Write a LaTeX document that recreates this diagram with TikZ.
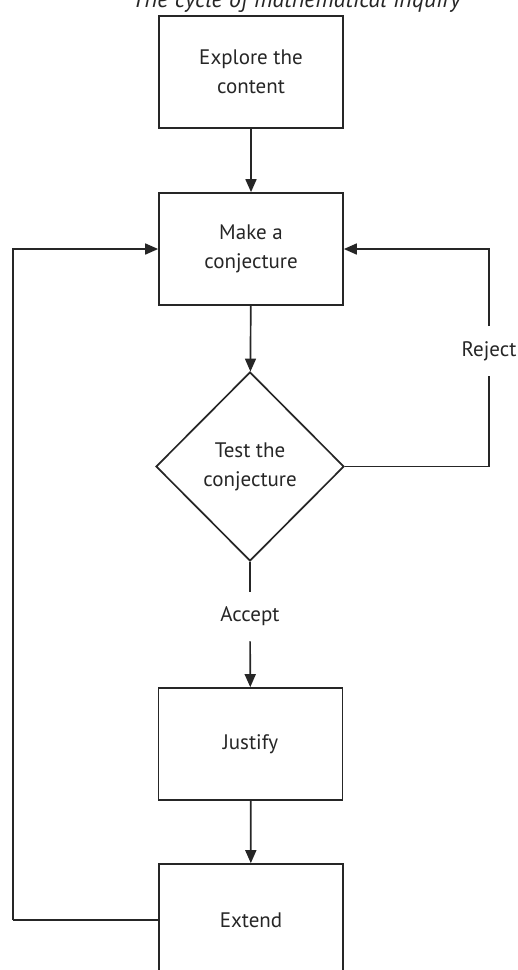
\documentclass[tikz,border=0pt]{standalone}
\usepackage{fontspec}
\setmainfont{PT Sans}
\usetikzlibrary{positioning,arrows.meta,shapes.geometric}

\definecolor{inkgray}{HTML}{262626}

\tikzset{
  stepbox/.style={draw=inkgray, line width=1.7pt, minimum width=184pt,
    minimum height=112pt, align=center, text=inkgray},
  testbox/.style={diamond, draw=inkgray, line width=1.7pt, aspect=1,
    inner sep=0pt, minimum width=188pt, minimum height=189pt,
    align=center, text=inkgray},
  answer/.style={inner xsep=2pt, inner ysep=15pt, text=inkgray},
  flow/.style={draw=inkgray, line width=1.7pt},
  flowarrow/.style={flow, -{Triangle[length=13pt,width=11pt]}}
}

\begin{document}
\begin{tikzpicture}[
    x=1pt, y=-1pt, font=\fontsize{21}{29}\selectfont]

    \useasboundingbox (0,0) rectangle (518,970);

    % title
    \node[anchor=base, font=\fontsize{24}{29}\selectfont\itshape, text=inkgray]
      (title) at (296.5,7) {The cycle of mathematical inquiry};

    % steps

    \node[stepbox] (explore) at (251,72) {Explore the\\content};
    \node[stepbox] (conj) at (251,249) {Make a\\conjecture};
    \node[testbox] (test) at (250,466.5) {Test the\\conjecture};
    \node[answer] (accept) at (250,616.5) {Accept};
    \node[answer] (reject) at (489,351) {Reject};
    \node[stepbox] (justify) at (250.5,744) {Justify};
    \node[stepbox] (extend) at (251,920) {Extend};

    \coordinate (back) at (13,920);

    % connectors

    \draw[flowarrow] (explore) -- (conj);
    \draw[flowarrow] (conj) -- (test);
    \draw[flow] (test.south) -- (accept);
    \draw[flowarrow] (accept) -- (justify);
    \draw[flowarrow] (justify) -- (extend);

    \draw[flow] (test.east) -| (reject.south);
    \draw[flowarrow] (reject.north) |- (conj.east);

    \draw[flow] (extend.west) -- (back);
    \draw[flowarrow] (back) |- (conj.west);
  \end{tikzpicture}
\end{document}
